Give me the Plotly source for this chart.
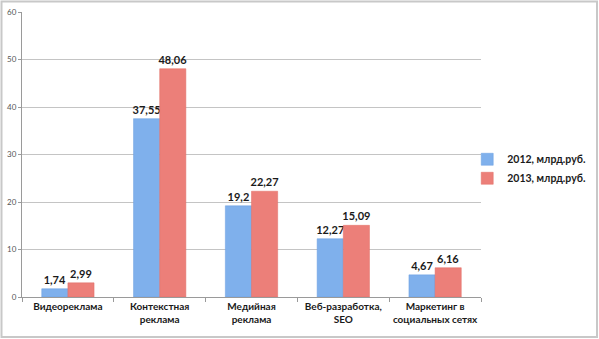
import plotly.graph_objects as go

categories = ["Видеореклама", "Контекстная<br>реклама", "Медийная<br>реклама",
              "Веб-разработка,<br>SEO", "Маркетинг в<br>социальных сетях"]
values_2012 = [1.74, 37.55, 19.2, 12.27, 4.67]
values_2013 = [2.99, 48.06, 22.27, 15.09, 6.16]
series_names = ["2012, млрд.руб.", "2013, млрд.руб."]
y_ticks = [0, 10, 20, 30, 40, 50, 60]

def fmt(v):
    return str(v).replace(".", ",")

FONT = "Lato"
fig = go.Figure()
for name, vals, col, line in [
    (series_names[0], values_2012, "#7fb0ec", "#6a9fe0"),
    (series_names[1], values_2013, "#ec7f79", "#e06c65"),
]:
    fig.add_trace(go.Bar(
        x=categories, y=vals, name=name,
        marker=dict(color=col, line=dict(color=line, width=0.5)),
        text=[fmt(v) for v in vals], textposition="outside",
        textfont=dict(family=FONT, size=11, color="#1a1a1a", weight="bold"),
        constraintext="none", cliponaxis=False,
    ))

fig.update_layout(
    width=599, height=339,
    margin=dict(l=22, r=118, t=12, b=42, autoexpand=False),
    paper_bgcolor="white", plot_bgcolor="rgba(0,0,0,0)",
    barmode="group", bargap=0.43, bargroupgap=0,
    font=dict(family=FONT),
    legend=dict(x=0.97, y=0.45, xanchor="left", yanchor="middle",
                font=dict(family=FONT, size=10.5, color="#1a1a1a", weight="bold"),
                itemwidth=30, bgcolor="rgba(0,0,0,0)"),
    shapes=[dict(type="rect", xref="paper", yref="paper",
                 x0=(1.5 - 22) / 459, x1=(597 - 22) / 459,
                 y0=-(337 - 297) / 285, y1=(297 - 1.5) / 285,
                 line=dict(color="#c8c8c8", width=2), layer="above")],
)
fig.update_xaxes(
    automargin=False, tickangle=0,
    showline=True, linecolor="#9a9a9a", linewidth=1,
    ticks="outside", tickson="boundaries", ticklen=4, tickcolor="#9a9a9a",
    tickfont=dict(family=FONT, size=10, color="#1a1a1a", weight="bold"),
    showgrid=False,
)
fig.update_yaxes(
    automargin=False,
    range=[0, 60], tickvals=y_ticks, ticktext=[str(t) for t in y_ticks],
    showline=True, linecolor="#9a9a9a", linewidth=1,
    ticks="outside", ticklen=3, tickcolor="#9a9a9a",
    tickfont=dict(family=FONT, size=8, color="#555555"),
    showgrid=True, gridcolor="#c4c4c4", gridwidth=1, zeroline=False,
)

fig.write_html("out.html", config={"displayModeBar": False},
               post_script="document.body.style.margin='0';")
